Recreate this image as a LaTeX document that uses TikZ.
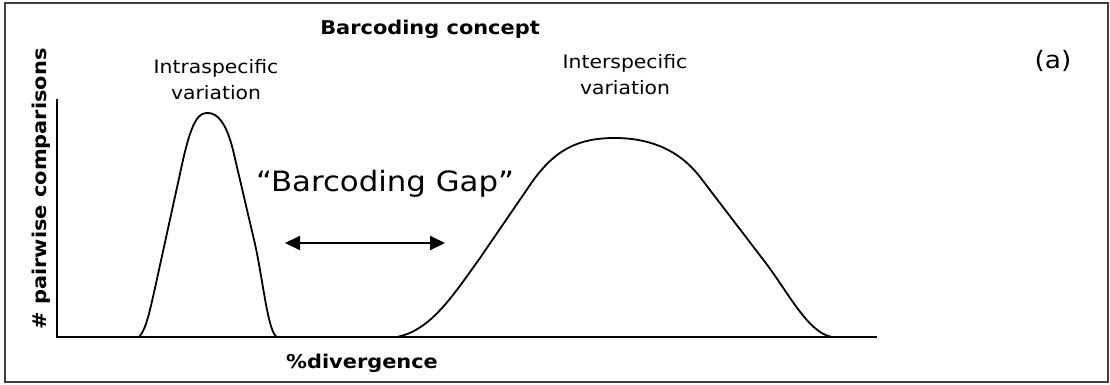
\documentclass[tikz,border=0pt]{standalone}
\usepackage{fontspec}
\setmainfont[FakeStretch=1.1]{DejaVu Sans}
\usetikzlibrary{arrows.meta}

\tikzset{
  frame/.style={draw=black!75, line width=1.6pt},
  axis/.style={draw=black, line width=1.8pt},
  curve/.style={draw=black, line width=1.8pt, line join=round},
  label/.style={inner sep=0pt, anchor=base, align=center},
  small/.style={label, font=\fontsize{18.5}{26}\selectfont},
  heading/.style={label, font=\bfseries\fontsize{19}{23}\selectfont},
  gap/.style={draw=black, line width=1.8pt, {Triangle[length=15pt,width=14pt]}-{Triangle[length=15pt,width=14pt]}}
}

\begin{document}
\begin{tikzpicture}[x=1pt, y=-1pt]
  \useasboundingbox (0,0) rectangle (1110,385);
  \draw[frame] (5,3) rectangle (1108,382);

  % axes
  \coordinate (ytop) at (57,99);
  \coordinate (origin) at (57,337);
  \coordinate (xend) at (877,337);
  \draw[axis] (ytop) -- (origin) -- (xend);

  % intraspecific distribution
  \draw[curve] (139,337) .. controls (146,330) and (150,310) .. (155,288)
    -- (183,160) .. controls (193,116) and (200,113) .. (208,113)
    .. controls (217,113) and (226,122) .. (233,150)
    -- (255,244) .. controls (263,280) and (268,333) .. (277,337);

  % interspecific distribution
  \draw[curve] (397,337) .. controls (430,330) and (450,300) .. (480,258)
    -- (530,185) .. controls (555,148) and (580,138) .. (615,138)
    .. controls (645,138) and (677,147) .. (700,177)
    -- (765,262) .. controls (788,292) and (808,333) .. (832,337);

  % labels
  \node[heading] (title) at (430,35) {Barcoding concept};
  \node[small] (intra) at (216,100) {Intraspecific\\variation};
  \node[small] (inter) at (625,95) {Interspecific\\variation};
  \node[label, font=\fontsize{24}{28}\selectfont] (tag) at (1053,69) {(a)};
  \node[label, font=\fontsize{28}{34}\selectfont] (gaptext) at (385,191) {“Barcoding Gap”};
  \node[heading] (xlabel) at (362,368) {\%divergence};
  \node[heading, rotate=90] (ylabel) at (46,189) {\# pairwise comparisons};

  % the gap between the two distributions
  \coordinate (gapL) at (285,243);
  \coordinate (gapR) at (445,243);
  \draw[gap] (gapL) -- (gapR);
\end{tikzpicture}
\end{document}
